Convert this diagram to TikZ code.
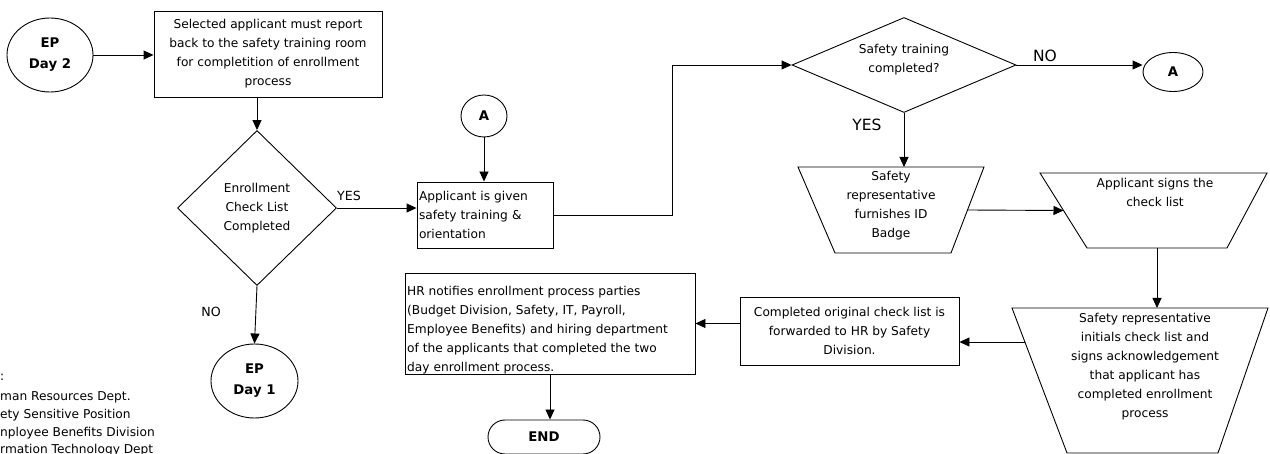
\documentclass[tikz,border=0pt]{standalone}
\usepackage{fontspec}
\setmainfont{DejaVu Sans}
\usetikzlibrary{shapes.geometric,arrows.meta,calc}
\begin{document}
\begin{tikzpicture}[x=1pt,y=-1pt,
  base/.style={draw, line width=0.9pt, font=\fontsize{12.2}{19}\selectfont, inner sep=2pt},
  proc/.style={base, rectangle},
  dec/.style={base, diamond, inner sep=0pt, align=center},
  term/.style={base, ellipse, inner sep=0pt, align=center, font=\bfseries\fontsize{13.3}{21}\selectfont},
  trapline/.style={line width=0.9pt},
  txt/.style={font=\fontsize{12.2}{19}\selectfont, inner sep=0pt, align=center},
  lbl/.style={font=\fontsize{12.6}{14}\selectfont, inner sep=0pt},
  keytxt/.style={font=\fontsize{12.2}{14}\selectfont, inner sep=0pt, anchor=west},
  biglbl/.style={font=\fontsize{15.5}{17}\selectfont, inner sep=0pt},
  conn/.style={line width=0.9pt, -{Triangle[length=10pt,width=9pt]}},
]
\useasboundingbox (0,0) rectangle (1270,454);

% nodes
\node[term, minimum width=86, minimum height=74] (ep2) at (50,55) {EP\\Day 2};
\node[proc, minimum width=228, minimum height=86, align=center] (box1) at (268,54)
  {Selected applicant must report\\back to the safety training room\\for completition of enrollment\\process};
\node[dec, minimum width=159, minimum height=155] (d1) at (257,208) {Enrollment\\Check List\\Completed};
\node[term, minimum width=87, minimum height=74] (ep1) at (254.5,381) {EP\\Day 1};
\node[term, minimum width=46, minimum height=42] (amid) at (484,116) {A};
\node[proc, minimum width=136, minimum height=66, text width=132, align=left] (box2) at (485,215)
  {Applicant is given\\safety training \&\\orientation};
\node[dec, minimum width=224, minimum height=95] (d2) at (904,65) {};
\node[txt] (d2t) at (904,60) {Safety training\\completed?};
\node[term, minimum width=60, minimum height=39] (ar) at (1173,72) {A};

% trapezoids
\coordinate (t1tl) at (798,167); \coordinate (t1tr) at (984,167);
\coordinate (t1br) at (951,253); \coordinate (t1bl) at (835,253);
\draw[trapline] (t1tl) -- (t1tr) -- (t1br) -- (t1bl) -- cycle;
\node[txt] (t1t) at (891,206) {Safety\\representative\\furnishes ID\\Badge};

\coordinate (t2tl) at (1040,173); \coordinate (t2tr) at (1267,173);
\coordinate (t2br) at (1227,248); \coordinate (t2bl) at (1087,248);
\draw[trapline] (t2tl) -- (t2tr) -- (t2br) -- (t2bl) -- cycle;
\node[txt] (t2t) at (1155,192.5) {Applicant signs the\\check list};

\coordinate (t3tl) at (1012,308); \coordinate (t3tr) at (1268,308);
\coordinate (t3br) at (1218,453); \coordinate (t3bl) at (1067,453);
\draw[trapline] (t3tl) -- (t3tr) -- (t3br) -- (t3bl) -- cycle;
\node[txt] (t3t) at (1145,367) {Safety representative\\initials check list and\\signs acknowledgement\\that applicant has\\completed enrollment\\process};

\coordinate (t1r) at ($(t1tr)!0.5!(t1br)$);
\coordinate (t2l) at ($(t2tl)!0.5!(t2bl)$);
\coordinate (t2b) at ($(t2bl)!0.5!(t2br)$);
\coordinate (t3l) at ($(t3tl)!0.2345!(t3bl)$);

\node[proc, minimum width=219, minimum height=68, align=center] (box3) at (849.5,331)
  {Completed original check list is\\forwarded to HR by Safety\\Division.};
\node[proc, minimum width=290, minimum height=101] (hr) at (550,323.5) {};
\node[txt, align=left, anchor=west] (hrt) at (407,330)
  {HR notifies enrollment process parties\\(Budget Division, Safety, IT, Payroll,\\Employee Benefits) and hiring department\\of the applicants that completed the two\\day enrollment process.};
\node[base, rounded corners=17, minimum width=112, minimum height=34, font=\bfseries\fontsize{13.3}{15}\selectfont] (end) at (544,437) {END};

% labels
\node[lbl] (yes1) at (349,196) {YES};
\node[lbl] (no1) at (211,312) {NO};
\node[biglbl] (yes2) at (867,125) {YES};
\node[biglbl] (no2) at (1045,56) {NO};

% legend (cut off at the picture's edges)
\begin{scope}
\clip (0,0) rectangle (1270,454);
\node[keytxt] (k0) at (0,377) {:};
\node[keytxt] (k1) at (0,397) {man Resources Dept.};
\node[keytxt] (k2) at (0,415) {ety Sensitive Position};
\node[keytxt] (k3) at (0,433) {nployee Benefits Division};
\node[keytxt] (k4) at (0,450) {rmation Technology Dept};
\end{scope}

% connectors
\draw[conn] (ep2.east) -- (ep2.east -| box1.west);
\draw[conn] (box1.south -| d1.north) -- (d1.north);
\draw[conn] (d1.east) -- (d1.east -| box2.west);
\draw[conn] (d1.south) -- (ep1.north);
\draw[conn] (amid.south) -- (amid.south |- box2.north);
\draw[conn] (box2.east) -- ++(119,0) |- (d2.west);
\draw[conn] (d2.east) -- (d2.east -| ar.west);
\draw[conn] (d2.south) -- (d2.south |- t1tl);
\draw[conn] (t1r) -- (t2l);
\draw[conn] (t2b) -- (t2b |- t3tl);
\draw[conn] (t3l) -- (t3l -| box3.east);
\draw[conn] (box3.west |- hr.east) -- (hr.east);
\draw[conn] (hr.south) -- (hr.south |- end.north);
\end{tikzpicture}
\end{document}
